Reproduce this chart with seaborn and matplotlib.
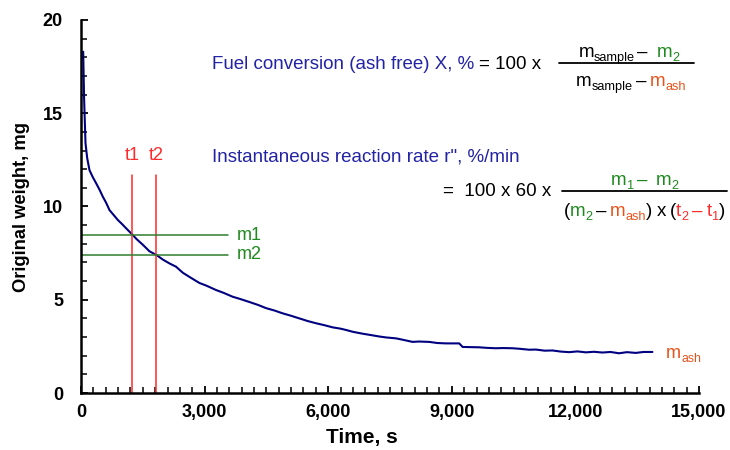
import numpy as np
import pandas as pd
import matplotlib
matplotlib.use("Agg")
import matplotlib.pyplot as plt
import matplotlib.ticker as mticker
import matplotlib.transforms as mtransforms
from matplotlib.lines import Line2D
import seaborn as sns

# ---------------- data ----------------
time_s = [53, 75, 109, 150, 206, 280, 369, 450, 529, 610, 691, 790, 893, 1000, 1096,
          1257, 1350, 1500, 1661, 1831, 1990, 2146, 2308, 2470, 2650, 2874, 3050, 3279,
          3450, 3683, 3850, 4087, 4300, 4492, 4700, 4896, 5100, 5300, 5500, 5705, 5900,
          6108, 6300, 6432, 6600, 6835, 7000, 7240, 7400, 7645, 7800, 8048, 8200, 8452,
          8650, 8857, 9180, 9261, 9450, 9665, 9850, 10070, 10250, 10473, 10650, 10878,
          11040, 11250, 11443, 11650, 11848, 12050, 12253, 12450, 12656, 12850, 13061,
          13250, 13466, 13650, 13869]
weight_mg = [18.3, 15.8, 13.4, 12.6, 11.95, 11.6, 11.24, 10.9, 10.53, 10.2, 9.81, 9.55,
             9.28, 9.05, 8.83, 8.47, 8.25, 7.95, 7.6, 7.40, 7.15, 6.95, 6.77, 6.45, 6.2,
             5.9, 5.75, 5.52, 5.38, 5.16, 5.05, 4.88, 4.72, 4.55, 4.42, 4.27, 4.14, 4.0,
             3.86, 3.74, 3.64, 3.52, 3.45, 3.38, 3.28, 3.18, 3.12, 3.03, 2.98, 2.93, 2.86,
             2.74, 2.76, 2.74, 2.68, 2.66, 2.66, 2.47, 2.46, 2.45, 2.42, 2.40, 2.41, 2.40,
             2.37, 2.32, 2.33, 2.27, 2.28, 2.22, 2.19, 2.23, 2.18, 2.21, 2.17, 2.20, 2.13,
             2.19, 2.15, 2.20, 2.20]

t_marks = [1237, 1831]          # t1, t2
t_labels = ["t1", "t2"]
m_marks = [8.47, 7.40]          # m1, m2
m_labels = ["m1", "m2"]
m_ash = 2.2

x_ticks = [0, 3000, 6000, 9000, 12000, 15000]
y_ticks = [0, 5, 10, 15, 20]

# ---------------- style ----------------
sns.set_style("white")
plt.rcParams["font.family"] = ["Liberation Sans", "DejaVu Sans"]
plt.rcParams["text.color"] = "black"
plt.rcParams["axes.labelcolor"] = "black"

W, H = 730, 450
fig = plt.figure(figsize=(W / 100, H / 100), dpi=100)
ax = fig.add_axes([81 / W, (H - 393) / H, (699 - 81) / W, (393 - 20) / H])

NAVY = "#000080"
BLUE = "#2323a5"
GREEN_T = "#1f8a1f"
GREEN_L = "#2f7d2f"
RED = "#ff2a2a"
ORANGE = "#e8531c"

df = pd.DataFrame({"Time": time_s, "Weight": weight_mg})
sns.lineplot(data=df, x="Time", y="Weight", ax=ax, color=NAVY, lw=1.5)

ax.set_xlim(0, 15000)
ax.set_ylim(0, 20)
ax.set_xticks(x_ticks)
ax.set_yticks(y_ticks)
ax.xaxis.set_minor_locator(mticker.MultipleLocator(300))
ax.yaxis.set_minor_locator(mticker.MultipleLocator(1))
ax.xaxis.set_major_formatter(mticker.StrMethodFormatter("{x:,.0f}"))
for s in ["top", "right"]:
    ax.spines[s].set_visible(False)
for s in ["left", "bottom"]:
    ax.spines[s].set_linewidth(1.8)
    ax.spines[s].set_color("black")
ax.tick_params(which="both", bottom=True, left=True, top=False, right=False,
               direction="in", colors="black")
ax.tick_params(which="major", length=5, width=1.3, labelsize=13)
ax.tick_params(which="minor", length=4, width=1.1)
ax.tick_params(axis="x", which="major", pad=8)
ax.tick_params(axis="y", which="major", pad=13)
for lab in ax.get_xticklabels() + ax.get_yticklabels():
    lab.set_fontweight("bold")
ax.set_xlabel("Time, s", fontsize=15, fontweight="bold", color="black")
ax.set_ylabel("Original weight, mg", fontsize=13.2, fontweight="bold", color="black")
ax.xaxis.set_label_coords(0.455, -0.093)
ax.yaxis.set_label_coords(-0.083, 0.5)

# guide lines
for tm, tl in zip(t_marks, t_labels):
    ax.plot([tm, tm], [0, 11.7], color=RED, lw=1.1)
    ax.text(tm, 12.5, tl, color=RED, fontsize=13, ha="center", va="baseline")
for mm, ml in zip(m_marks, m_labels):
    ax.plot([0, 3580], [mm, mm], color=GREEN_L, lw=1.1)
    ax.text(3780, mm, ml, color=GREEN_T, fontsize=13, ha="left", va="center")

# ---------------- formula text helper (pixel coords, top-left origin) ----------------
ident = mtransforms.IdentityTransform()
renderer = fig.canvas.get_renderer()
SIZE = 13.5


def draw_run(pieces, x, y_base, align="left", size=SIZE):
    items = []
    for p in pieces:
        if p[0] == "gap":
            items.append(("gap", p[1], None))
            continue
        s, c, k = p
        fs = size if k == "n" else size * 0.68
        t = fig.text(0, 0, s, color=c, fontsize=fs, va="baseline", ha="left",
                     transform=ident)
        items.append(("t", t, k))
    widths = []
    for kind, obj, k in items:
        widths.append(obj if kind == "gap" else obj.get_window_extent(renderer).width)
    total = sum(widths)
    x0 = x - total / 2 if align == "center" else x
    for (kind, obj, k), w in zip(items, widths):
        if kind == "t":
            yy = y_base + (4 if k == "s" else 0)
            obj.set_position((x0, H - yy))
        x0 += w


def hbar(x1, x2, y):
    fig.add_artist(Line2D([x1 / W, x2 / W], [(H - y) / H, (H - y) / H],
                          transform=fig.transFigure, color="black", lw=1.3))


K = "black"
# Formula 1
draw_run([("Fuel conversion (ash free) X, %", BLUE, "n"), ("gap", 5),
          ("= 100 x", K, "n")], 212, 69)
draw_run([("m", K, "n"), ("sample", K, "s"), ("gap", 2), ("–", K, "n"), ("gap", 9),
          ("m", GREEN_T, "n"), ("2", GREEN_T, "s")], 629, 57, align="center")
hbar(559, 694, 63)
draw_run([("m", K, "n"), ("sample", K, "s"), ("gap", 3), ("–", K, "n"), ("gap", 4),
          ("m", ORANGE, "n"), ("ash", ORANGE, "s")], 631, 86, align="center")

# Formula 2
draw_run([("Instantaneous reaction rate r\", %/min", BLUE, "n")], 212, 161)
draw_run([("=  100 x 60 x", K, "n")], 443, 196)
draw_run([("m", GREEN_T, "n"), ("1", GREEN_T, "s"), ("gap", 3), ("–", GREEN_T, "n"),
          ("gap", 9), ("m", GREEN_T, "n"), ("2", GREEN_T, "s")], 645, 185, align="center")
hbar(562, 727, 191)
draw_run([("(", K, "n"), ("m", GREEN_T, "n"), ("2", GREEN_T, "s"), ("gap", 3),
          ("–", K, "n"), ("gap", 4), ("m", ORANGE, "n"), ("ash", ORANGE, "s"),
          (")", K, "n"), ("gap", 4), ("x", K, "n"), ("gap", 4), ("(", K, "n"),
          ("t", RED, "n"), ("2", RED, "s"), ("gap", 4), ("–", RED, "n"), ("gap", 4),
          ("t", RED, "n"), ("1", RED, "s"), (")", K, "n")], 644.5, 216, align="center")

# m_ash label anchored to data
px, py = ax.transData.transform((14200, m_ash))
draw_run([("m", ORANGE, "n"), ("ash", ORANGE, "s")], px, H - py + 6, size=13)

fig.savefig("out.png", dpi=100)
